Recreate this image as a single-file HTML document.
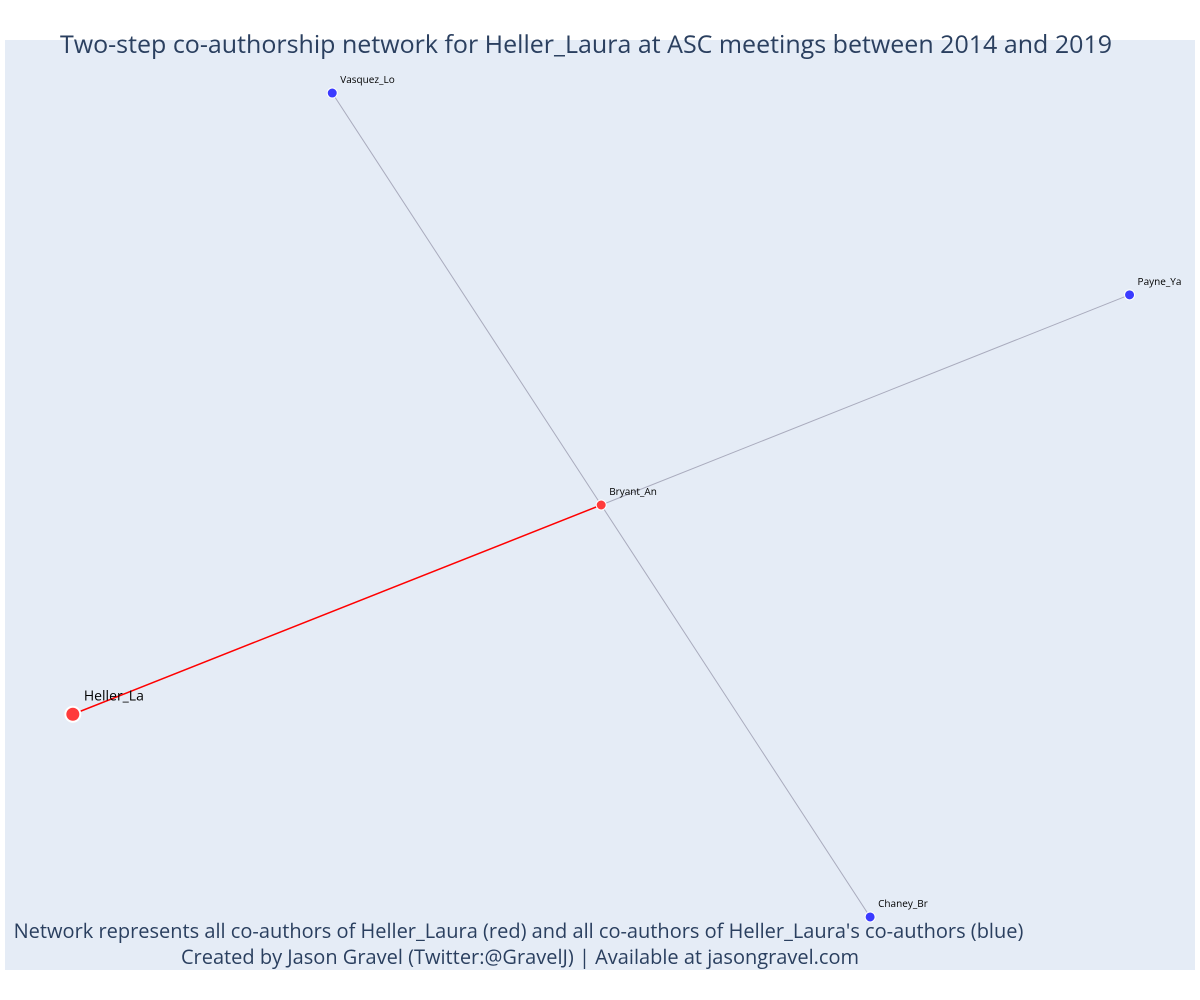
<!DOCTYPE html>
<html><head><meta charset="utf-8"><style>
body{margin:0;background:#fff;}
svg{display:block;font-family:"Open Sans","Liberation Sans",sans-serif;}
</style></head><body>
<svg id="chart" width="1200" height="1000">
<rect x="5" y="40" width="1190" height="930" fill="#e5ecf6"/>
<g id="edges"></g><g id="nodes"></g><g id="labels"></g>
<text x="586" y="53" text-anchor="middle" font-size="25" fill="#2a3f5f">Two-step co-authorship network for Heller_Laura at ASC meetings between 2014 and 2019</text>
<text x="518.5" y="938" text-anchor="middle" font-size="20" fill="#2a3f5f">Network represents all co-authors of Heller_Laura (red) and all co-authors of Heller_Laura's co-authors (blue)</text>
<text x="520" y="964" text-anchor="middle" font-size="20" fill="#2a3f5f">Created by Jason Gravel (Twitter:@GravelJ) | Available at jasongravel.com</text>
</svg>
<script>
const nodeNames=["Heller_La","Bryant_An","Vasquez_Lo","Payne_Ya","Chaney_Br"];
const nodeX=[0.057,0.501,0.275,0.945,0.727];
const nodeY=[0.275,0.500,0.943,0.726,0.057];
const nodeGroup=["focal","red","blue","blue","blue"];
const edgeFrom=[0,1,1,1];
const edgeTo=[1,2,3,4];
const edgeType=["red","gray","gray","gray"];
const xs=v=>5+v*1190, ys=v=>970-v*930;
const NS="http://www.w3.org/2000/svg";
const E=document.getElementById('edges'),N=document.getElementById('nodes'),L=document.getElementById('labels');
for(let i=0;i<edgeFrom.length;i++){
  const l=document.createElementNS(NS,'line');
  const a=edgeFrom[i],b=edgeTo[i];
  l.setAttribute('x1',xs(nodeX[a]));l.setAttribute('y1',ys(nodeY[a]));
  l.setAttribute('x2',xs(nodeX[b]));l.setAttribute('y2',ys(nodeY[b]));
  l.setAttribute('stroke',edgeType[i]==='red'?'#ff0000':'#a9abbd');
  l.setAttribute('stroke-width',edgeType[i]==='red'?1.5:1);
  
  
  E.appendChild(l);
}
for(let i=0;i<nodeNames.length;i++){
  const c=document.createElementNS(NS,'circle');
  const focal=nodeGroup[i]==='focal';
  c.setAttribute('cx',xs(nodeX[i]));c.setAttribute('cy',ys(nodeY[i]));
  c.setAttribute('r',focal?7.5:5);
  c.setAttribute('fill',nodeGroup[i]==='blue'?'#3b3bff':'#ff3b3b');
  c.setAttribute('stroke','#fff');c.setAttribute('stroke-width',focal?2:1);
  
  
  N.appendChild(c);
  const t=document.createElementNS(NS,'text');
  t.setAttribute('x',xs(nodeX[i])+(focal?11:8));
  t.setAttribute('y',ys(nodeY[i])+(focal?-14:-10));
  t.setAttribute('font-size',focal?14:10);
  t.setAttribute('fill','#000');
  t.textContent=nodeNames[i];
  
  
  L.appendChild(t);
}
</script>
</body></html>
